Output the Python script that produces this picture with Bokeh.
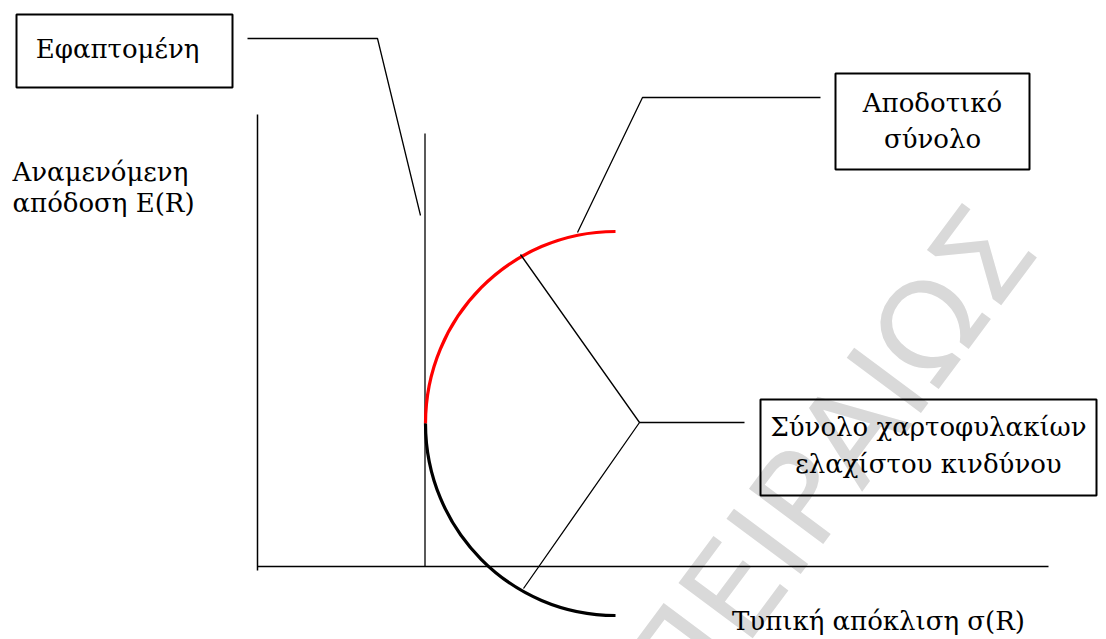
from bokeh.plotting import figure
from bokeh.models import Range1d
from bokeh.core.properties import value
from bokeh.embed import file_html
from bokeh.resources import INLINE

# ---- diagram data (page-pixel coordinates) ----
y_axis_x = [257, 257]
y_axis_y = [114, 570]
x_axis_x = [257, 1048]
x_axis_y = [566, 566]
tangent_x = [424.5, 424.5]
tangent_y = [133, 566]
vertex = (425, 423)
efficient_end = (615, 231)
inefficient_end = (615, 615)
lead_tangent_x = [247, 377, 420]
lead_tangent_y = [38, 38, 215]
lead_eff_x = [577, 642, 820]
lead_eff_y = [232, 97, 97]
lead_mv_x = [520, 639, 523]
lead_mv_y = [254, 422, 588]
lead_mv2_x = [639, 744]
lead_mv2_y = [422, 422]
box_left = [16, 835, 760]
box_right = [232, 1029, 1096]
box_top = [14, 73, 399]
box_bottom = [87, 169, 495]
label_text = ["Εφαπτομένη", "Αποδοτικό", "σύνολο",
              "Σύνολο χαρτοφυλακίων", "ελαχίστου κινδύνου",
              "Αναμενόμενη", "απόδοση E(R)", "Τυπική απόκλιση σ(R)"]
label_x = [117, 932, 932, 928, 928, 12, 12, 878]
label_y = [48, 102, 138, 426, 463, 171, 202, 620]
label_align = ["center", "center", "center", "center", "center", "left", "left", "center"]
watermark = "ΠΕΙΡΑΙΩΣ"

SERIF = value("DejaVu Serif")

W, H = 1106, 639
p = figure(width=W, height=H, output_backend="svg", toolbar_location=None,
           x_range=Range1d(0, W), y_range=Range1d(H, 0),
           min_border=0, outline_line_color=None)
p.axis.visible = False
p.grid.visible = False
p.background_fill_color = "white"
p.border_fill_color = "white"

# faint watermark
p.text(x=[1006], y=[224], text=[watermark], angle=0.93,
       text_font=value("DejaVu Sans"), text_font_size="127px",
       text_color="#d9d9d9", text_align="right", text_baseline="middle")

# axes and tangent
p.line(y_axis_x, y_axis_y, line_color="black", line_width=1.5)
p.line(x_axis_x, x_axis_y, line_color="black", line_width=1.5)
p.line(tangent_x, tangent_y, line_color="black", line_width=1.3)

# frontier arcs (quarter ellipses as cubic Beziers)
k = 0.5523
vx, vy = vertex
ex, ey = efficient_end
ix, iy = inefficient_end
p.bezier(x0=[vx], y0=[vy], x1=[ex], y1=[ey],
         cx0=[vx], cy0=[vy - k * (vy - ey)], cx1=[ex - k * (ex - vx)], cy1=[ey],
         line_color="#ff0000", line_width=3.2)
p.bezier(x0=[vx], y0=[vy], x1=[ix], y1=[iy],
         cx0=[vx], cy0=[vy + k * (iy - vy)], cx1=[ix - k * (ix - vx)], cy1=[iy],
         line_color="black", line_width=3.2)

# leader lines
for lx, ly in [(lead_tangent_x, lead_tangent_y), (lead_eff_x, lead_eff_y),
               (lead_mv_x, lead_mv_y), (lead_mv2_x, lead_mv2_y)]:
    p.line(lx, ly, line_color="black", line_width=1.3)

# label boxes
p.quad(left=box_left, right=box_right, top=box_top, bottom=box_bottom,
       fill_color=None, line_color="black", line_width=2)

# labels
for t, x, y, a in zip(label_text, label_x, label_y, label_align):
    p.text(x=[x], y=[y], text=[t], text_font=SERIF,
           text_font_size="26px", text_color="black", text_align=a,
           text_baseline="alphabetic")

open("out.html", "w").write(file_html(p, INLINE))
